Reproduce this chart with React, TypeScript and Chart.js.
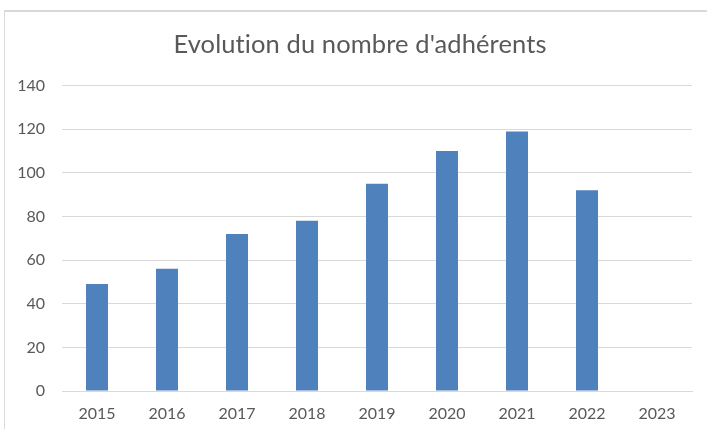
import React, { useEffect, useRef } from "react";
import { Chart, registerables } from "chart.js";

Chart.register(...registerables);

const categories = ["2015", "2016", "2017", "2018", "2019", "2020", "2021", "2022", "2023"];
const adherents = [49, 56, 72, 78, 95, 110, 119, 92, null];
const yTicks = [0, 20, 40, 60, 80, 100, 120, 140];
const TITLE = "Evolution du nombre d'adhérents";

const TEXT = "#595959";
const GRID = "#d9d9d9";
const BAR = "#4f81bd";
const FONT = "Lato, 'Open Sans', sans-serif";

const titlePlugin = {
  id: "offsetTitle",
  afterDraw(chart: any) {
    const c = chart.ctx;
    c.save();
    c.fillStyle = TEXT;
    c.font = `normal 25.5px ${FONT}`;
    try {
      c.letterSpacing = "0.1px";
    } catch (e) {}
    c.textAlign = "center";
    c.textBaseline = "middle";
    c.fillText(TITLE, chart.width / 2 + 6.5, 44.3);
    c.restore();
  },
};

export default function App() {
  const ref = useRef<HTMLCanvasElement | null>(null);

  useEffect(() => {
    document.body.style.margin = "0";
    const ctx = ref.current!.getContext("2d")!;
    const chart = new Chart(ctx, {
      type: "bar",
      data: {
        labels: categories,
        datasets: [
          {
            label: "Adhérents",
            data: adherents as any,
            backgroundColor: BAR,
            borderWidth: 0,
            categoryPercentage: 1,
            barPercentage: 0.314,
          },
        ],
      },
      plugins: [titlePlugin],
      options: {
        responsive: false,
        animation: false,
        layout: { padding: { top: 85.6, left: 0, right: 15, bottom: 0 } },
        plugins: {
          legend: { display: false },
          tooltip: { enabled: false },
          title: { display: false },
        },
        scales: {
          x: {
            grid: { display: false, drawTicks: false },
            border: { display: true, color: GRID, width: 1 },
            ticks: {
              color: TEXT,
              font: { family: FONT, size: 16 },
              padding: 13,
              maxRotation: 0,
            },
            afterFit: (s: any) => {
              s.height = 38;
            },
          },
          y: {
            min: 0,
            max: 140,
            afterBuildTicks: (s: any) => {
              s.ticks = yTicks.map((v) => ({ value: v }));
            },
            grid: { color: GRID, lineWidth: 1, drawTicks: false },
            border: { display: false },
            ticks: {
              color: TEXT,
              font: { family: FONT, size: 16 },
              padding: 17,
            },
            afterFit: (s: any) => {
              s.width = 62;
            },
          },
        },
      },
    });
    return () => chart.destroy();
  }, []);

  return (
    <div style={{ position: "relative", width: 707, height: 429, overflow: "hidden", background: "#fff" }}>
      <canvas ref={ref} width={707} height={429} style={{ position: "absolute", left: 0, top: 0 }} />
      <div
        style={{
          position: "absolute",
          left: 4,
          top: 10,
          width: 720,
          height: 440,
          borderLeft: "1px solid #d9d9d9",
          borderTop: "2px solid #d9d9d9",
          boxSizing: "border-box",
          pointerEvents: "none",
        }}
      />
    </div>
  );
}
